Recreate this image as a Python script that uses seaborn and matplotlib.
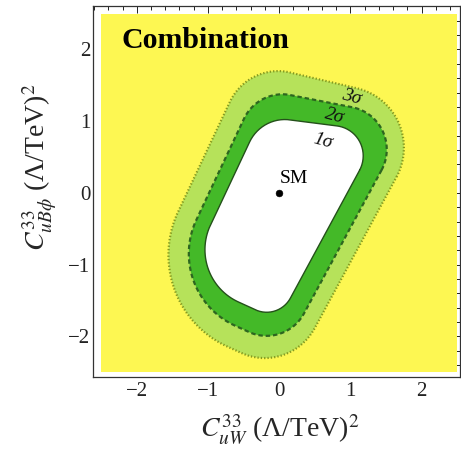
import numpy as np
import matplotlib
matplotlib.use("Agg")
import matplotlib.pyplot as plt
from matplotlib.ticker import MultipleLocator
import seaborn as sns

# Allowed regions of the combined fit in the (C_uW, C_uBphi) plane.
# Each confidence contour is a rounded quadrilateral: four edges (right, top,
# left, bottom) given by their outward normal angle and offset
# (n . x = offset), plus a rounding radius for each corner.
normals_1sigma = [-28.6, 82.7, 154.6, 245.5]
normals_2sigma = [-28.6, 78.9, 154.6, 245.5]
normals_3sigma = [-28.6, 76.8, 154.6, 245.5]

offsets_1sigma = [0.84, 1.03, 0.68, 1.62]
offsets_2sigma = [1.11, 1.37, 0.89, 1.94]
offsets_3sigma = [1.34, 1.67, 1.17, 2.25]

# corner radii: top-right, top-left, bottom-left, bottom-right
radii_1sigma = [0.42, 0.55, 0.80, 0.38]
radii_2sigma = [0.60, 0.60, 1.10, 0.60]
radii_3sigma = [0.85, 0.75, 1.40, 0.80]

sigma_labels = ["1σ", "2σ", "3σ"]
sigma_label_x = [0.61, 0.78, 1.02]
sigma_label_y = [0.72, 1.07, 1.33]

sm_x = [0.0]
sm_y = [0.0]

scan_range = [-2.5, 2.5]
x_ticks = [-2, -1, 0, 1, 2]
y_ticks = [-2, -1, 0, 1, 2]


def rounded_outline(normals_deg, offsets, radii, n_arc=60):
    """Closed outline of a convex polygon with rounded corners."""
    ang = np.deg2rad(np.array(normals_deg))
    normals = np.stack([np.cos(ang), np.sin(ang)], axis=1)
    xs, ys = [], []
    n = len(ang)
    for i in range(n):
        j = (i + 1) % n
        rho = radii[i]
        A = np.array([normals[i], normals[j]])
        b = np.array([offsets[i] - rho, offsets[j] - rho])
        cx, cy = np.linalg.solve(A, b)
        a0, a1 = ang[i], ang[j]
        while a1 <= a0:
            a1 += 2 * np.pi
        phi = np.linspace(a0, a1, n_arc)
        xs.append(cx + rho * np.cos(phi))
        ys.append(cy + rho * np.sin(phi))
    xs = np.concatenate(xs)
    ys = np.concatenate(ys)
    return np.append(xs, xs[0]), np.append(ys, ys[0])


sns.set_theme(style="white")
plt.rcParams["font.family"] = ["Liberation Serif", "DejaVu Serif"]
plt.rcParams["mathtext.fontset"] = "stix"
plt.rcParams["axes.unicode_minus"] = True

fig = plt.figure(figsize=(4.61, 4.51), dpi=100)
ax = fig.add_axes([93 / 461, 1 - 377 / 451, 367 / 461, 371 / 451])
ax.set_facecolor("white")

yellow = "#fdf752"
light_green = "#b6e25a"
dark_green = "#44b928"

lo, hi = scan_range
ax.fill([lo, hi, hi, lo], [lo, lo, hi, hi], color=yellow, lw=0, zorder=1)

o3x, o3y = rounded_outline(normals_3sigma, offsets_3sigma, radii_3sigma)
o2x, o2y = rounded_outline(normals_2sigma, offsets_2sigma, radii_2sigma)
o1x, o1y = rounded_outline(normals_1sigma, offsets_1sigma, radii_1sigma)

ax.fill(o3x, o3y, color=light_green, lw=0, zorder=2)
ax.fill(o2x, o2y, color=dark_green, lw=0, zorder=3)
ax.fill(o1x, o1y, color="white", lw=0, zorder=4)

ax.plot(o3x, o3y, color="#869a1e", lw=1.6, ls=(0, (0.6, 0.9)), zorder=5)
ax.plot(o2x, o2y, color="#2d6620", lw=1.6, ls=(0, (2.0, 1.3)), zorder=5)
ax.plot(o1x, o1y, color="#24501a", lw=1.0, ls="-", zorder=5)

for lab, lx, ly in zip(sigma_labels, sigma_label_x, sigma_label_y):
    ax.text(lx, ly, lab, fontsize=14, style="italic", rotation=-15,
            ha="center", va="center", color="#111111", zorder=6)

sns.scatterplot(x=sm_x, y=sm_y, ax=ax, color="black", s=24, zorder=7,
                edgecolor="black", legend=False)
ax.text(sm_x[0] + 0.01, sm_y[0] + 0.14, "SM", fontsize=14, ha="left",
        va="baseline", color="black", zorder=7)

ax.text(-2.21, 2.02, "Combination", fontsize=21.5, fontweight="bold",
        ha="left", va="baseline", color="black", zorder=7)

ax.set_xlim(-2.615, 2.54)
ax.set_ylim(-2.565, 2.606)
ax.set_xticks(x_ticks)
ax.set_yticks(y_ticks)
ax.xaxis.set_minor_locator(MultipleLocator(0.2))
ax.yaxis.set_minor_locator(MultipleLocator(0.2))
ax.tick_params(which="both", direction="in", top=True, right=True,
               labelsize=15, colors="#222222", width=0.7)
ax.tick_params(which="major", length=5)
ax.tick_params(which="minor", length=2.6)
ax.tick_params(axis="y", pad=2)
for sp in ax.spines.values():
    sp.set_color("#333333")
    sp.set_linewidth(0.9)
    sp.set_zorder(8)

ax.set_xlabel(r"$C^{33}_{uW}$ (Λ/TeV)$^2$", fontsize=20)
ax.set_ylabel(r"$C^{33}_{uB\phi}$ (Λ/TeV)$^2$", fontsize=20)
ax.xaxis.set_label_coords(0.508, -0.097)
ax.yaxis.set_label_coords(-0.095, 0.566)

fig.savefig("out.png", dpi=100)
